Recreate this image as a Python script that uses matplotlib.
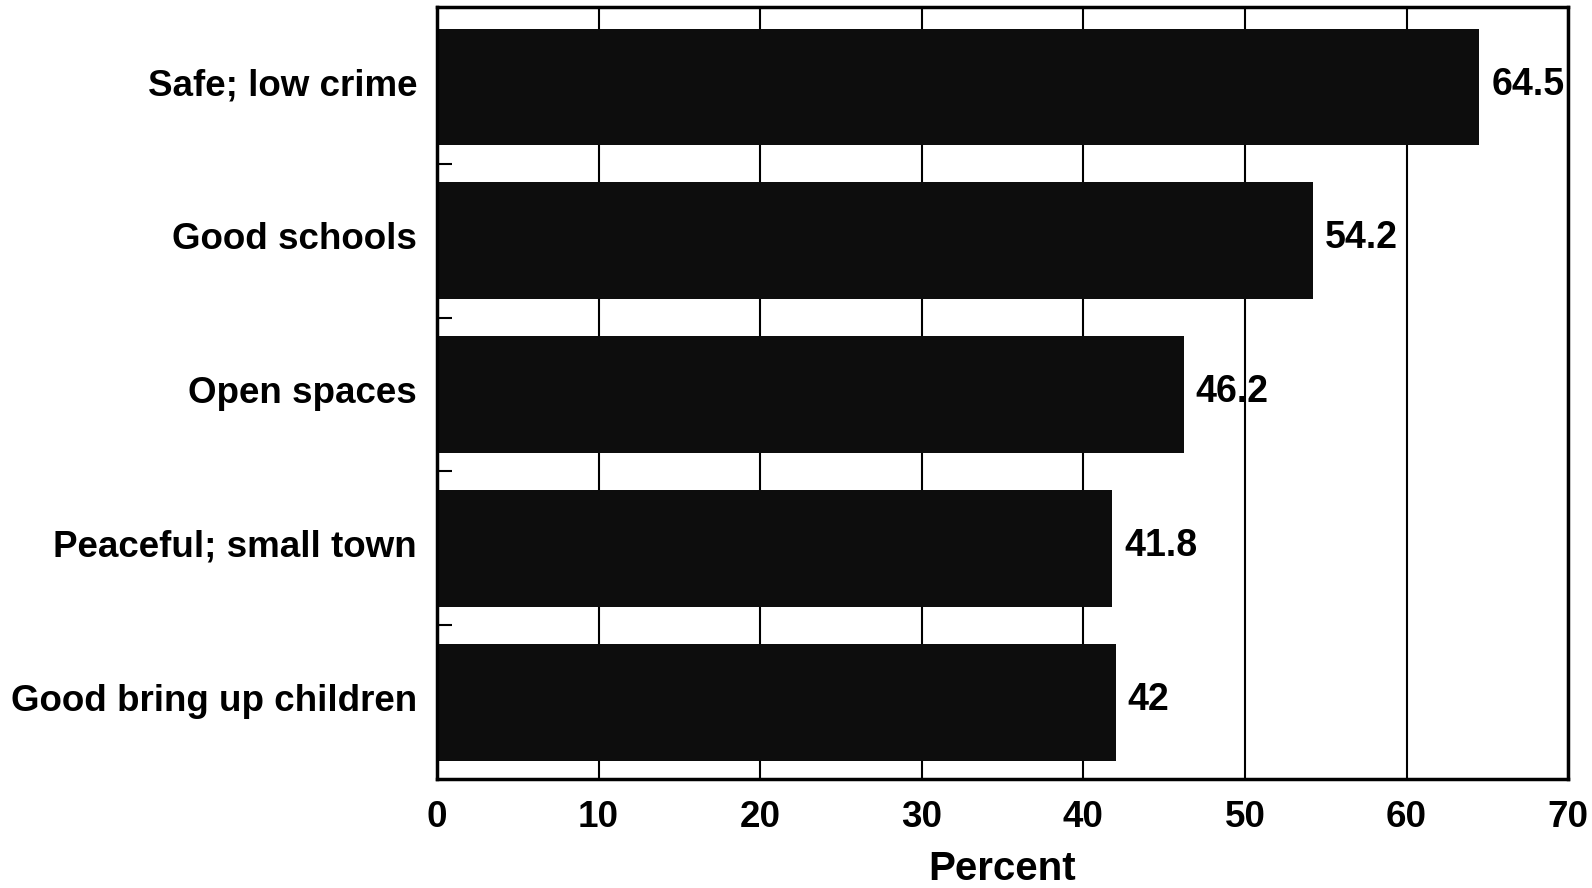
import matplotlib
matplotlib.use("Agg")
import matplotlib.pyplot as plt
import matplotlib.transforms as mtrans
import numpy as np

categories = ["Safe; low crime", "Good schools", "Open spaces",
              "Peaceful; small town", "Good bring up children"]
values = [64.5, 54.2, 46.2, 41.8, 42]
value_labels = ["64.5", "54.2", "46.2", "41.8", "42"]
xticks = [0, 10, 20, 30, 40, 50, 60, 70]

plt.rcParams['font.family'] = ['Liberation Sans', 'DejaVu Sans']
plt.rcParams['font.weight'] = 'bold'

fig = plt.figure(figsize=(15.92, 8.88), dpi=100)
ax = fig.add_axes([0.2745, 0.1227, 0.985 - 0.2745, 0.992 - 0.1227])

y = np.arange(len(categories))
ax.barh(y, values, height=0.76, color='#0d0d0d', zorder=2)

up3 = mtrans.ScaledTranslation(0, 2.5 / 100, fig.dpi_scale_trans)
for yi, v, lab in zip(y, values, value_labels):
    ax.text(v + 0.75, yi, lab, va='center', ha='left', fontsize=27,
            fontweight='bold', zorder=3, transform=ax.transData + up3)

ax.set_xlim(0, 70)
ax.set_ylim(4.5, -0.52)
ax.set_xticks(xticks)
ax.set_xticklabels([str(t) for t in xticks], fontsize=26.5, fontweight='bold')

# category labels, nudged slightly upward as in the original
ax.set_yticks(y)
ax.set_yticklabels([])
lab_tr = ax.get_yaxis_transform() + mtrans.ScaledTranslation(-20 / 100, 5 / 100, fig.dpi_scale_trans)
for yi, cat in zip(y, categories):
    ax.text(0, yi, cat, ha='right', va='center_baseline', fontsize=26.5,
            fontweight='bold', transform=lab_tr, clip_on=False)

ax.set_yticks([0.5, 1.5, 2.5, 3.5], minor=True)
ax.tick_params(axis='y', which='major', length=0, pad=14)
ax.tick_params(axis='y', which='minor', direction='in', length=11, width=1.5, color='black')
ax.tick_params(axis='x', which='major', length=0, pad=15)

ax.xaxis.grid(True, color='black', linewidth=1.5, zorder=1)
ax.set_axisbelow(True)

for s in ax.spines.values():
    s.set_linewidth(2.5)
    s.set_color('black')

ax.set_xlabel("Percent", fontsize=29, fontweight='bold', labelpad=11)

fig.savefig("out.png", dpi=100, facecolor='white')
